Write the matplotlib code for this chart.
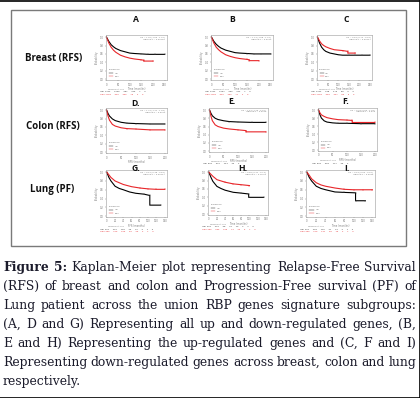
import numpy as np
import matplotlib
matplotlib.use("Agg")
import matplotlib.pyplot as plt
from matplotlib.lines import Line2D
from matplotlib.patches import Rectangle

W, H = 420, 398

# -----------------------------
# Data
# -----------------------------
breast_ticks = [0, 50, 100, 150, 200, 250]
colon_ticks = [0, 50, 100, 150, 200]
lung_ticks = [0, 20, 40, 60, 80, 100, 120, 140]

# A - breast, all genes
A_low_t = [0, 5, 10, 20, 30, 40, 60, 80, 100, 120, 150, 180, 210, 250]
A_low_s = [1.0, 0.95, 0.90, 0.82, 0.77, 0.73, 0.68, 0.65, 0.62, 0.61, 0.60, 0.59, 0.59, 0.59]
A_high_t = [0, 5, 10, 20, 30, 40, 60, 80, 100, 120, 150, 160, 160, 200]
A_high_s = [1.0, 0.93, 0.86, 0.76, 0.69, 0.64, 0.57, 0.53, 0.50, 0.48, 0.46, 0.45, 0.43, 0.43]
# B - breast, up-regulated
B_low_t = [0, 5, 10, 20, 30, 40, 60, 80, 100, 120, 150, 180, 210, 250]
B_low_s = [1.0, 0.95, 0.90, 0.83, 0.78, 0.74, 0.69, 0.66, 0.63, 0.62, 0.61, 0.60, 0.60, 0.60]
B_high_t = [0, 5, 10, 20, 30, 40, 60, 80, 100, 120, 150, 160, 160, 200]
B_high_s = [1.0, 0.93, 0.86, 0.76, 0.70, 0.65, 0.58, 0.54, 0.51, 0.49, 0.47, 0.46, 0.44, 0.44]
# C - breast, down-regulated
C_low_t = [0, 5, 10, 20, 30, 40, 60, 80, 100, 120, 150, 180, 210, 250]
C_low_s = [1.0, 0.93, 0.86, 0.76, 0.70, 0.66, 0.62, 0.60, 0.58, 0.57, 0.57, 0.57, 0.57, 0.57]
C_high_t = [0, 5, 10, 20, 30, 40, 60, 80, 100, 120, 145, 145, 180]
C_high_s = [1.0, 0.96, 0.91, 0.84, 0.80, 0.77, 0.73, 0.70, 0.69, 0.68, 0.66, 0.62, 0.62]
# D - colon, all genes
D_low_t = [0, 5, 10, 20, 30, 50, 70, 100, 150, 200]
D_low_s = [1.0, 0.92, 0.86, 0.79, 0.75, 0.71, 0.69, 0.68, 0.67, 0.67]
D_high_t = [0, 5, 10, 20, 30, 50, 70, 100, 150, 200]
D_high_s = [1.0, 0.86, 0.76, 0.66, 0.62, 0.58, 0.56, 0.55, 0.53, 0.53]
# E - colon, up-regulated
E_low_t = [0, 5, 10, 20, 30, 50, 70, 100, 150, 200]
E_low_s = [1.0, 0.92, 0.86, 0.80, 0.77, 0.74, 0.72, 0.71, 0.70, 0.70]
E_high_t = [0, 5, 10, 20, 30, 50, 70, 100, 130, 130, 200]
E_high_s = [1.0, 0.85, 0.74, 0.64, 0.60, 0.56, 0.54, 0.52, 0.50, 0.47, 0.47]
# F - colon, down-regulated
F_low_t = [0, 5, 10, 20, 30, 50, 70, 100, 150, 200]
F_low_s = [1.0, 0.88, 0.80, 0.73, 0.70, 0.68, 0.67, 0.67, 0.66, 0.66]
F_high_t = [0, 5, 10, 20, 30, 50, 70, 100, 120, 120, 200]
F_high_s = [1.0, 0.93, 0.88, 0.84, 0.81, 0.78, 0.76, 0.75, 0.74, 0.69, 0.69]
# G - lung, all genes
G_low_t = [0, 5, 10, 20, 30, 40, 55, 70, 90, 104, 104, 130]
G_low_s = [1.0, 0.88, 0.80, 0.68, 0.63, 0.60, 0.55, 0.52, 0.50, 0.47, 0.25, 0.25]
G_high_t = [0, 5, 10, 20, 30, 40, 60, 80, 100, 120, 140]
G_high_s = [1.0, 0.94, 0.88, 0.80, 0.76, 0.72, 0.67, 0.64, 0.62, 0.61, 0.61]
# H - lung, up-regulated
H_low_t = [0, 5, 10, 20, 30, 40, 60, 80, 98, 98, 135]
H_low_s = [1.0, 0.88, 0.78, 0.66, 0.61, 0.57, 0.52, 0.50, 0.48, 0.40, 0.40]
H_high_t = [0, 5, 10, 20, 30, 40, 60, 80, 100]
H_high_s = [1.0, 0.95, 0.90, 0.82, 0.79, 0.76, 0.72, 0.70, 0.68]
# I - lung, down-regulated
I_low_t = [0, 5, 10, 20, 30, 40, 60, 80, 104, 104, 125]
I_low_s = [1.0, 0.88, 0.80, 0.68, 0.63, 0.60, 0.55, 0.54, 0.53, 0.35, 0.35]
I_high_t = [0, 5, 10, 20, 30, 40, 60, 80, 100, 120, 140]
I_high_s = [1.0, 0.93, 0.85, 0.76, 0.71, 0.68, 0.64, 0.61, 0.60, 0.60, 0.60]

panel_names = ["A", "B", "C", "D.", "E.", "F.", "G.", "H.", "I."]
row_labels = ["Breast (RFS)", "Colon (RFS)", "Lung (PF)"]
hr_texts = ["HR = 1.22 (1.09 - 1.37)\nlogrank P = 0.00048",
            "HR = 1.21 (1.08 - 1.36)\nlogrank P = 0.0013",
            "HR = 0.81 (0.72 - 0.91)\nlogrank P = 0.00047",
            "HR = 1.46 (1.11 - 1.93)\nlogrank P = 0.0072",
            "HR = 1.57 (1.19 - 2.07)\nlogrank P = 0.0013",
            "HR = 0.78 (0.59 - 1.03)\nlogrank P = 0.079",
            "HR = 0.62 (0.48 - 0.81)\nlogrank P = 0.00037",
            "HR = 0.55 (0.41 - 0.73)\nlogrank P = 3.1e-05",
            "HR = 0.69 (0.53 - 0.90)\nlogrank P = 0.0065"]
risk_low = ["1764 1025 387 105 7 0", "1764 1031 390 104 7 0", "1764 998 375 98 6 0",
            "", "594 330 124 32 2", "594 318 117 30 2",
            "491 212 103 46 12 3 1 0", "491 205 98 41 10 2 1 0", "491 218 106 47 13 3 1 0"]
risk_high = ["1763 936 335 76 4 0", "1763 930 332 77 4 0", "1763 963 347 83 5 0",
             "", "", "",
             "490 276 150 69 20 4 1 0", "490 283 155 74 22 5 1 0", "490 270 147 68 19 4 1 0"]

caption_lines = [
    "Figure 5: Kaplan-Meier plot representing Relapse-Free Survival",
    "(RFS) of breast and colon and Progression-Free survival (PF) of",
    "Lung patient across the union RBP genes signature subgroups:",
    "(A, D and G) Representing all up and down-regulated genes, (B,",
    "E and H) Representing the up-regulated genes and (C, F and I)",
    "Representing down-regulated genes across breast, colon and lung",
    "respectively.",
]

curves = [(A_low_t, A_low_s, A_high_t, A_high_s), (B_low_t, B_low_s, B_high_t, B_high_s),
          (C_low_t, C_low_s, C_high_t, C_high_s), (D_low_t, D_low_s, D_high_t, D_high_s),
          (E_low_t, E_low_s, E_high_t, E_high_s), (F_low_t, F_low_s, F_high_t, F_high_s),
          (G_low_t, G_low_s, G_high_t, G_high_s), (H_low_t, H_low_s, H_high_t, H_high_s),
          (I_low_t, I_low_s, I_high_t, I_high_s)]
ticks = [breast_ticks] * 3 + [colon_ticks] * 3 + [lung_ticks] * 3
xlabels = ["Time (months)"] * 3 + ["RFS (months)"] * 3 + ["PFS (months)", "Time (months)", "Time (months)"]

# panel boxes in pixels: left, top, right, bottom
boxes = [(106, 35, 167, 80), (211, 35, 273, 80), (317, 35, 372, 80),
         (106, 108, 167, 153), (209, 108, 268, 152), (318, 108, 377, 151),
         (106, 170, 167, 217), (208, 170, 268, 215), (306, 170, 375, 217)]
letter_pos = [(136, 19), (232, 19), (346, 19), (136, 103), (232, 102), (346, 102),
              (136, 168.5), (243, 168.5), (347, 168)]
row_pos = [(54, 58), (53, 127), (52, 190)]

# -----------------------------
# Figure
# -----------------------------
fig = plt.figure(figsize=(W / 100, H / 100), dpi=100)
fig.patch.set_facecolor("white")


def fx(x):
    return x / W


def fy(y):
    return 1 - y / H


# frames
fig.add_artist(Rectangle((fx(11), fy(246)), fx(406) - fx(11), fy(10) - fy(246),
                         transform=fig.transFigure, fill=False, ec="#7a7a7a", lw=1.0))
fig.add_artist(Line2D([0, 1], [fy(0.5), fy(0.5)], transform=fig.transFigure, color="black", lw=1.2))
fig.add_artist(Line2D([0, 1], [fy(397.5), fy(397.5)], transform=fig.transFigure, color="black", lw=1.2))
fig.add_artist(Line2D([fx(419.5), fx(419.5)], [0, 1], transform=fig.transFigure, color="black", lw=1.2))

for (l, t, r, b), (lt, ls, ht, hs), xt, xl, name, lp, hr, rl, rh in zip(
        boxes, curves, ticks, xlabels, panel_names, letter_pos, hr_texts, risk_low, risk_high):
    ax = fig.add_axes([fx(l), fy(b), fx(r) - fx(l), fy(t) - fy(b)])
    ax.plot(lt, ls, color="black", lw=0.8)
    ax.plot(ht, hs, color="#e8262a", lw=0.8)
    # censor marks on the tails
    ax.plot(lt[-4:], ls[-4:], "|", color="#555555", ms=1.2, mew=0.3)
    ax.plot(ht[-4:], hs[-4:], "|", color="#e8262a", ms=1.2, mew=0.3)
    ax.set_xlim(-2, xt[-1] * 1.04)
    ax.set_ylim(-0.02, 1.05)
    ax.set_xticks(xt)
    ax.set_yticks([0, 0.2, 0.4, 0.6, 0.8, 1.0])
    ax.tick_params(labelsize=1.8, length=1, width=0.3, pad=0.8, colors="#777777")
    for s in ax.spines.values():
        s.set_color("#999999")
        s.set_linewidth(0.4)
    ax.set_xlabel(xl, fontsize=1.8, labelpad=0.3, color="#777777")
    ax.set_ylabel("Probability", fontsize=1.8, labelpad=0.8, color="#777777")
    ax.text(0.97, 0.96, hr, transform=ax.transAxes, ha="right", va="top", fontsize=1.5, color="#777777")
    ax.text(0.04, 0.22, "Expression", transform=ax.transAxes, fontsize=1.5, color="#777777")
    ax.plot([0.05, 0.12], [0.15, 0.15], transform=ax.transAxes, color="black", lw=0.3)
    ax.plot([0.05, 0.12], [0.08, 0.08], transform=ax.transAxes, color="#e8262a", lw=0.3)
    ax.text(0.14, 0.15, "low", transform=ax.transAxes, fontsize=1.5, va="center", color="#777777")
    ax.text(0.14, 0.08, "high", transform=ax.transAxes, fontsize=1.5, va="center", color="#777777")
    # number at risk table
    if rl:
        fig.text(fx(l + 2), fy(b + 10), "Number at risk", fontsize=1.5, color="#777777")
        fig.text(fx(l - 6), fy(b + 12.5), "low  " + rl.replace(" ", "      "), fontsize=1.5, color="#333333")
    if rh:
        fig.text(fx(l - 6), fy(b + 15), "high " + rh.replace(" ", "      "), fontsize=1.5, color="#e8262a")
    fig.text(fx(lp[0]), fy(lp[1]), name, ha="center", va="center", fontsize=6.2,
             family="Open Sans", weight="bold", color="#111111")

for lab, (x, y) in zip(row_labels, row_pos):
    fig.text(fx(x), fy(y), lab, ha="center", va="center", fontsize=7,
             family="Open Sans", weight="bold", color="#111111")

# -----------------------------
# Justified caption
# -----------------------------
renderer = fig.canvas.get_renderer()
cap_left, cap_right = 3, 416
cap_color = "#1b1b2b"
for i, line in enumerate(caption_lines):
    base = 271 + i * 19
    words = line.split(" ")
    arts = []
    for j, w in enumerate(words):
        bold = (i == 0 and j < 2)
        t = fig.text(0, fy(base), w, fontsize=8.95, family="DejaVu Serif",
                     weight="bold" if bold else "normal", color=cap_color, va="baseline")
        arts.append(t)
    widths = [a.get_window_extent(renderer).width for a in arts]
    if i < len(caption_lines) - 1:
        gap = (cap_right - cap_left - sum(widths)) / (len(words) - 1)
    else:
        gap = 3.2
    x = cap_left
    for a, wd in zip(arts, widths):
        a.set_x(fx(x))
        x += wd + gap

fig.savefig("out.png", dpi=100)
